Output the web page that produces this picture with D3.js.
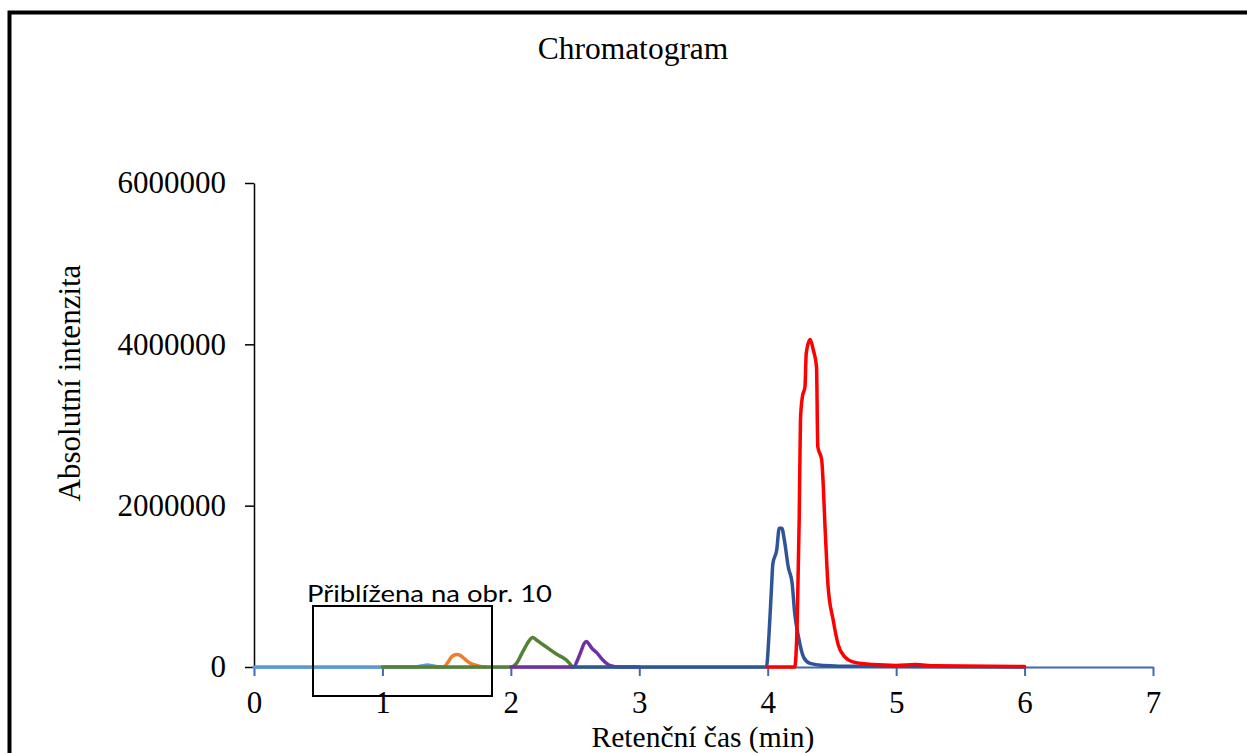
<!DOCTYPE html>
<html>
<head>
<meta charset="utf-8">
<script src="https://cdn.jsdelivr.net/npm/d3@7"></script>
<style>
    body { margin: 0; background: #fff; }
    svg { display: block; }
</style>
</head>
<body>
<div id="chart"></div>
<script>
"use strict";

// Retention time (min) and absolute intensity for each trace
const lightBlueTime = [0, 1.0, 1.25, 1.3, 1.35, 1.4, 1.45, 1.5];
const lightBlueValue = [0, 0, 0, 12000, 25000, 12000, 0, 0];

const orangeTime = [1.45, 1.48, 1.51, 1.54, 1.58, 1.61, 1.64, 1.68, 1.72, 1.76, 1.8];
const orangeValue = [0, 5000, 60000, 130000, 155000, 140000, 100000, 50000, 25000, 8000, 0];

const greenTime = [1.0, 2.0, 2.02, 2.05, 2.08, 2.11, 2.14, 2.17, 2.2, 2.23, 2.27, 2.31, 2.36, 2.4, 2.44, 2.48];
const greenValue = [0, 0, 10000, 60000, 150000, 240000, 320000, 365000, 335000, 300000, 255000, 210000, 155000, 120000, 75000, 0];

const purpleTime = [2.0, 2.49, 2.52, 2.55, 2.57, 2.59, 2.61, 2.63, 2.67, 2.72, 2.77, 2.85, 3.0];
const purpleValue = [0, 0, 90000, 210000, 290000, 316000, 280000, 235000, 175000, 80000, 20000, 0, 0];

const darkBlueTime = [2.48, 3.99, 4.01, 4.03, 4.04, 4.07, 4.09, 4.11, 4.13, 4.16, 4.19, 4.21, 4.24, 4.28, 4.33, 4.43, 4.7, 6.0];
const darkBlueValue = [0, 0, 400000, 1000000, 1280000, 1450000, 1720000, 1720000, 1570000, 1240000, 1040000, 670000, 370000, 120000, 45000, 20000, 8000, 0];

const redTime = [4.0, 4.21, 4.23, 4.245, 4.255, 4.27, 4.29, 4.3, 4.33, 4.355, 4.38, 4.39, 4.42, 4.45, 4.47, 4.51, 4.55, 4.6, 4.67, 4.82, 5.0, 5.15, 5.3, 6.0];
const redValue = [0, 0, 580000, 1820000, 3060000, 3350000, 3470000, 3890000, 4060000, 3930000, 3720000, 2730000, 2570000, 1610000, 1000000, 580000, 270000, 125000, 60000, 30000, 20000, 30000, 15000, 5000];

const xTicks = [0, 1, 2, 3, 4, 5, 6, 7];
const yTicks = [0, 2000000, 4000000, 6000000];

const serif = "'Liberation Serif', 'Times New Roman', serif";

let width = 1247,
    height = 753;

let svg = d3.select("#chart")
    .append("svg")
    .attr("width", width)
    .attr("height", height);

// Scales
let x = d3.scaleLinear().domain([0, 7]).range([254, 1153]);
let y = d3.scaleLinear().domain([0, 6000000]).range([667, 183]);

// Outer frame (only top and left edges are inside the picture)
svg.append("path")
    .attr("d", "M9.5,760V12.5H1250")
    .attr("fill", "none")
    .attr("stroke", "#000")
    .attr("stroke-width", 4);

// Title
svg.append("text")
    .attr("x", 633)
    .attr("y", 59)
    .attr("text-anchor", "middle")
    .style("font-family", serif)
    .style("font-size", "31.5px")
    .text("Chromatogram");

// Y axis
let yAxis = svg.append("g")
    .attr("transform", "translate(254,0)")
    .call(d3.axisLeft(y)
        .tickValues(yTicks)
        .tickSize(9)
        .tickPadding(19)
        .tickSizeOuter(0)
        .tickFormat(d3.format("d")));
yAxis.select(".domain").attr("stroke", "#000").attr("stroke-width", 1.5);
yAxis.selectAll(".tick line").attr("stroke", "#000").attr("stroke-width", 1.5);
yAxis.selectAll("text")
    .attr("fill", "#000")
    .style("font-family", serif)
    .style("font-size", "31px");

// X axis
let xAxis = svg.append("g")
    .attr("transform", "translate(0,667)")
    .call(d3.axisBottom(x)
        .tickValues(xTicks)
        .tickSize(9)
        .tickPadding(15)
        .tickSizeOuter(0)
        .tickFormat(d3.format("d")));
xAxis.select(".domain").attr("stroke", "#4068B4").attr("stroke-width", 2);
xAxis.selectAll(".tick line").attr("stroke", "#4068B4").attr("stroke-width", 2);
xAxis.selectAll("text")
    .attr("fill", "#000")
    .style("font-family", serif)
    .style("font-size", "31px");

// Axis titles
svg.append("text")
    .attr("x", 703)
    .attr("y", 746.5)
    .attr("text-anchor", "middle")
    .style("font-family", serif)
    .style("font-size", "29.5px")
    .text("Retenční čas (min)");

svg.append("text")
    .attr("transform", "translate(80,383) rotate(-90)")
    .attr("text-anchor", "middle")
    .style("font-family", serif)
    .style("font-size", "31px")
    .text("Absolutní intenzita");

// Traces
let series = [
    { time: lightBlueTime, value: lightBlueValue, color: "#5B9BD5" },
    { time: orangeTime, value: orangeValue, color: "#ED7D31" },
    { time: greenTime, value: greenValue, color: "#548235" },
    { time: purpleTime, value: purpleValue, color: "#7030A0" },
    { time: darkBlueTime, value: darkBlueValue, color: "#2F5597" },
    { time: redTime, value: redValue, color: "#FF0000" }
];

let line = d3.line()
    .x(function (d) { return x(d[0]); })
    .y(function (d) { return y(d[1]); })
    .curve(d3.curveMonotoneX);

svg.append("g")
    .attr("class", "traces")
    .selectAll("path")
    .data(series)
    .enter().append("path")
    .attr("d", function (s) {
        return line(d3.zip(s.time, s.value));
    })
    .attr("fill", "none")
    .attr("stroke", function (s) { return s.color; })
    .attr("stroke-width", 3.5)
    .attr("stroke-linejoin", "round")
    .attr("stroke-linecap", "round");

// Zoom box annotation
svg.append("rect")
    .attr("x", 313)
    .attr("y", 606)
    .attr("width", 179)
    .attr("height", 90)
    .attr("fill", "none")
    .attr("stroke", "#000")
    .attr("stroke-width", 2);

svg.append("text")
    .attr("x", 307)
    .attr("y", 602)
    .attr("textLength", 245)
    .attr("lengthAdjust", "spacingAndGlyphs")
    .style("font-family", "Lato, 'Open Sans', sans-serif")
    .style("font-size", "24px")
    .text("Přiblížena na obr. 10");
</script>
</body>
</html>
